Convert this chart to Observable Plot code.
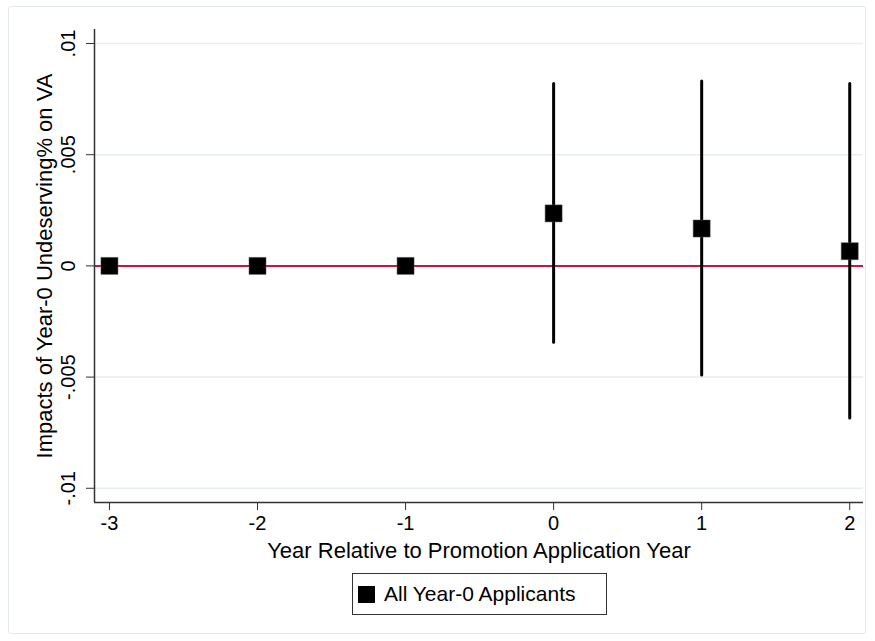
<!DOCTYPE html>
<html>
<head>
<meta charset="utf-8">
<script src="https://cdn.jsdelivr.net/npm/d3@7"></script>
<script src="https://cdn.jsdelivr.net/npm/@observablehq/plot@0.6"></script>
<style>
  html, body { margin: 0; padding: 0; background: #fff; }
  body { width: 875px; height: 641px; position: relative; overflow: hidden; font-family: "Liberation Sans", Arial, Helvetica, sans-serif; }
  #border { position: absolute; left: 8px; top: 6px; width: 858px; height: 628px; border: 1px solid #e4ebef; border-radius: 3px; box-sizing: border-box; }
  #chart { position: absolute; left: 0; top: 0; }
  #legend { position: absolute; left: 352px; top: 573px; width: 255px; height: 42px; border: 1px solid #333; box-sizing: border-box; background: #fff; display: flex; align-items: center; font-size: 21px; color: #000; }
  #legend .sw { width: 17px; height: 17px; background: #000; margin-left: 5px; margin-right: 9px; }
</style>
</head>
<body>
<div id="border"></div>
<div id="chart"></div>
<div id="legend"><div class="sw"></div><span id="legend-label"></span></div>
<script>
// Data
const years = [-3, -2, -1, 0, 1, 2];
const estimates = [0, 0, 0, 0.00236, 0.00168, 0.00066];
const ciLow = [null, null, null, -0.00346, -0.00493, -0.00686];
const ciHigh = [null, null, null, 0.00818, 0.00829, 0.00818];
const yTicks = [-0.01, -0.005, 0, 0.005, 0.01];
const yTickLabels = ["-.01", "-.005", "0", ".005", ".01"];
const xTicks = [-3, -2, -1, 0, 1, 2];
const seriesName = "All Year-0 Applicants";
const xTitle = "Year Relative to Promotion Application Year";
const yTitle = "Impacts of Year-0 Undeserving% on VA";

const rows = years.map((x, i) => ({x, est: estimates[i], lo: ciLow[i], hi: ciHigh[i]}));
const ciRows = rows.filter(d => d.lo != null);
const yTickRows = yTicks.map((v, i) => ({v, label: yTickLabels[i]}));

const xDomain = [-3.101, 2.093];
const yDomain = [-0.01064, 0.01063];
const font = "Liberation Sans, Arial, Helvetica, sans-serif";

const chart = Plot.plot({
  width: 875,
  height: 572,
  marginLeft: 94,
  marginRight: 12,
  marginTop: 29,
  marginBottom: 70,
  style: {fontFamily: font, fontSize: "20px", color: "#000", background: "transparent"},
  x: {domain: xDomain},
  y: {domain: yDomain},
  marks: [
    Plot.gridY(yTicks.filter(v => v !== 0), {stroke: "#e6eef1", strokeOpacity: 1, strokeWidth: 1.5}),
    Plot.ruleY([0], {stroke: "#c8163f", strokeWidth: 2}),
    Plot.ruleX(ciRows, {x: "x", y1: "lo", y2: "hi", stroke: "#000", strokeWidth: 3, strokeLinecap: "round"}),
    Plot.dot(rows, {x: "x", y: "est", symbol: "square", r: 9.6, fill: "#000", stroke: "#555", strokeWidth: 0.5}),
    Plot.ruleX([xDomain[0]], {stroke: "#333", strokeWidth: 1.5}),
    Plot.ruleY([yDomain[0]], {stroke: "#333", strokeWidth: 1.5}),
    Plot.axisX({ticks: xTicks, tickSize: 8, tickPadding: 5, tickFormat: d => String(d), label: null, fontSize: 20, stroke: "#333"}),
    Plot.axisY({ticks: yTicks, tickSize: 8, tickFormat: () => "", label: null, stroke: "#333"}),
    Plot.text(yTickRows, {y: "v", text: "label", frameAnchor: "left", dx: -26, rotate: -90, textAnchor: "middle", lineAnchor: "middle", fontSize: 20, fill: "#000"}),
    Plot.text([xTitle], {frameAnchor: "bottom", dy: 48, textAnchor: "middle", lineAnchor: "middle", fontSize: 22, fill: "#000"}),
    Plot.text([yTitle], {frameAnchor: "left", dx: -50, rotate: -90, textAnchor: "middle", lineAnchor: "middle", fontSize: 22, fill: "#000"})
  ]
});
document.getElementById("chart").appendChild(chart);
document.getElementById("legend-label").textContent = seriesName;
</script>
</body>
</html>
